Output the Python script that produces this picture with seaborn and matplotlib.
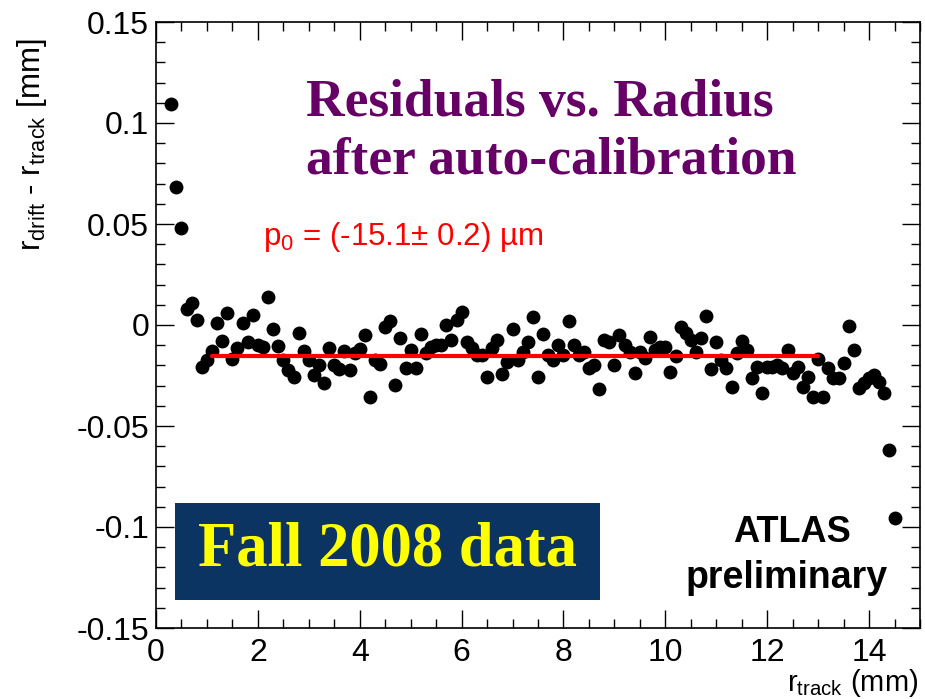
import matplotlib
matplotlib.use("Agg")
import matplotlib.pyplot as plt
from matplotlib.patches import Rectangle
from matplotlib.ticker import MultipleLocator
import pandas as pd
import seaborn as sns

# Track radius bin centres (mm)
r_track = [
    0.3, 0.4, 0.5, 0.6, 0.7, 0.8, 0.9, 1.0, 1.1, 1.2,
    1.3, 1.4, 1.5, 1.6, 1.7, 1.8, 1.9, 2.0, 2.1, 2.2,
    2.3, 2.4, 2.5, 2.6, 2.7, 2.8, 2.9, 3.0, 3.1, 3.2,
    3.3, 3.4, 3.5, 3.6, 3.7, 3.8, 3.9, 4.0, 4.1, 4.2,
    4.3, 4.4, 4.5, 4.6, 4.7, 4.8, 4.9, 5.0, 5.1, 5.2,
    5.3, 5.4, 5.5, 5.6, 5.7, 5.8, 5.9, 6.0, 6.1, 6.2,
    6.3, 6.4, 6.5, 6.6, 6.7, 6.8, 6.9, 7.0, 7.1, 7.2,
    7.3, 7.4, 7.5, 7.6, 7.7, 7.8, 7.9, 8.0, 8.1, 8.2,
    8.3, 8.4, 8.5, 8.6, 8.7, 8.8, 8.9, 9.0, 9.1, 9.2,
    9.3, 9.4, 9.5, 9.6, 9.7, 9.8, 9.9, 10.0, 10.1, 10.2,
    10.3, 10.4, 10.5, 10.6, 10.7, 10.8, 10.9, 11.0, 11.1, 11.2,
    11.3, 11.4, 11.5, 11.6, 11.7, 11.8, 11.9, 12.0, 12.1, 12.2,
    12.3, 12.4, 12.5, 12.6, 12.7, 12.8, 12.9, 13.0, 13.1, 13.2,
    13.3, 13.4, 13.5, 13.6, 13.7, 13.8, 13.9, 14.0, 14.1, 14.2,
    14.3, 14.4, 14.5,
]

# Mean residual r_drift - r_track per bin (mm)
residual = [
    0.1094, 0.0683, 0.0480, 0.0079, 0.0109, 0.0025, -0.0208, -0.0173, -0.0129, 0.0010,
    -0.0079, 0.0059, -0.0168, -0.0114, 0.0010, -0.0084, 0.0050, -0.0099, -0.0109, 0.0139,
    -0.0020, -0.0104, -0.0173, -0.0223, -0.0257, -0.0040, -0.0129, -0.0173, -0.0248, -0.0198,
    -0.0287, -0.0114, -0.0198, -0.0218, -0.0129, -0.0223, -0.0139, -0.0119, -0.0050, -0.0356,
    -0.0173, -0.0193, -0.0010, 0.0020, -0.0297, -0.0064, -0.0213, -0.0124, -0.0213, -0.0045,
    -0.0139, -0.0109, -0.0099, -0.0099, 0.0000, -0.0074, 0.0025, 0.0064, -0.0084, -0.0114,
    -0.0149, -0.0149, -0.0257, -0.0114, -0.0074, -0.0243, -0.0183, -0.0020, -0.0173, -0.0134,
    -0.0084, 0.0040, -0.0257, -0.0045, -0.0149, -0.0173, -0.0099, -0.0149, 0.0020, -0.0099,
    -0.0149, -0.0134, -0.0213, -0.0198, -0.0317, -0.0074, -0.0084, -0.0198, -0.0050, -0.0099,
    -0.0134, -0.0238, -0.0134, -0.0163, -0.0059, -0.0124, -0.0109, -0.0109, -0.0233, -0.0153,
    -0.0010, -0.0040, -0.0074, -0.0134, -0.0064, 0.0045, -0.0218, -0.0084, -0.0173, -0.0213,
    -0.0307, -0.0139, -0.0079, -0.0124, -0.0262, -0.0208, -0.0337, -0.0208, -0.0208, -0.0198,
    -0.0213, -0.0124, -0.0238, -0.0208, -0.0307, -0.0257, -0.0356, -0.0168, -0.0356, -0.0213,
    -0.0262, -0.0262, -0.0188, -0.0005, -0.0124, -0.0312, -0.0287, -0.0262, -0.0248, -0.0282,
    -0.0337, -0.0619, -0.0955,
]

# Constant fit (pol0) over the central radius range
fit_p0 = -0.0151
fit_err = 0.0002
fit_range = [1.1, 13.0]

x_ticks = [0, 2, 4, 6, 8, 10, 12, 14]
x_tick_labels = ["0", "2", "4", "6", "8", "10", "12", "14"]
y_ticks = [-0.15, -0.1, -0.05, 0.0, 0.05, 0.1, 0.15]
y_tick_labels = ["-0.15", "-0.1", "-0.05", "0", "0.05", "0.1", "0.15"]

sns.set_style("ticks")
plt.rcParams["font.family"] = ["Liberation Sans", "DejaVu Sans"]
plt.rcParams["mathtext.default"] = "regular"
plt.rcParams["axes.linewidth"] = 1.2

W, H = 925, 699
fig = plt.figure(figsize=(W / 100, H / 100), dpi=100)
fig.patch.set_facecolor("white")

left, right, top, bottom = 156, 920, 22, 628
ax = fig.add_axes([left / W, 1 - bottom / H, (right - left) / W, (bottom - top) / H])

points = pd.DataFrame({"r_track": r_track, "residual": residual})
sns.scatterplot(data=points, x="r_track", y="residual", color="black",
                s=100, linewidth=0, ax=ax, zorder=3, legend=False)

fit_line = pd.DataFrame({"r_track": fit_range, "residual": [fit_p0, fit_p0]})
sns.lineplot(data=fit_line, x="r_track", y="residual", color="#ff0000",
             linewidth=3.0, ax=ax, zorder=4, legend=False)

ax.set_xlim(0, 15)
ax.set_ylim(-0.15, 0.15)
ax.set_xticks(x_ticks)
ax.set_xticklabels(x_tick_labels)
ax.set_yticks(y_ticks)
ax.set_yticklabels(y_tick_labels)
ax.xaxis.set_minor_locator(MultipleLocator(0.5))
ax.yaxis.set_minor_locator(MultipleLocator(0.01))
ax.tick_params(which="both", direction="in", top=True, right=True,
               width=1.0, colors="black", labelsize=23)
ax.tick_params(which="major", length=13)
ax.tick_params(which="minor", length=6.5)
ax.tick_params(axis="x", pad=7)
ax.tick_params(axis="y", pad=5)
ax.set_xlabel("")
ax.set_ylabel("")
for sp in ax.spines.values():
    sp.set_color("black")


def fx(px):
    return px / W


def fy(py):
    return 1 - py / H


# Axis titles
fig.text(fx(32), fy(38), r"r$_{drift}$ - r$_{track}$ [mm]", rotation=90,
         ha="center", va="top", fontsize=22.5, color="black")
fig.text(fx(918), fy(683), r"r$_{track}$ (mm)", ha="right", va="center",
         fontsize=21, color="black")

# Plot title
title_kw = dict(family=["Liberation Serif", "DejaVu Serif"], weight="bold",
                color="#660066", fontsize=38.5, ha="left", va="center")
fig.text(fx(306), fy(103), "Residuals vs. Radius", **title_kw)
fig.text(fx(306), fy(160), "after auto-calibration", **title_kw)

# Fit result
fig.text(fx(263), fy(237),
         f"p$_0$ = ({fit_p0 * 1e3:.1f}\u00b1 {fit_err * 1e3:.1f}) \u00b5m",
         color="#ff0000", fontsize=22.5, ha="left", va="center")

# Data period banner
fig.patches.append(Rectangle((fx(175), fy(600)), (600 - 175) / W, (600 - 503) / H,
                             transform=fig.transFigure, facecolor="#0b3463",
                             edgecolor="none", zorder=5))
fig.text(fx(388), fy(551), "Fall 2008 data", family=["Liberation Serif", "DejaVu Serif"],
         weight="bold", color="#ffff00", fontsize=45, ha="center", va="center", zorder=6)

# Experiment label
fig.text(fx(792), fy(533), "ATLAS", weight="bold", fontsize=26,
         ha="center", va="center", color="black")
fig.text(fx(787), fy(578), "preliminary", weight="bold", fontsize=27,
         ha="center", va="center", color="black")

fig.savefig("out.png", dpi=100)
